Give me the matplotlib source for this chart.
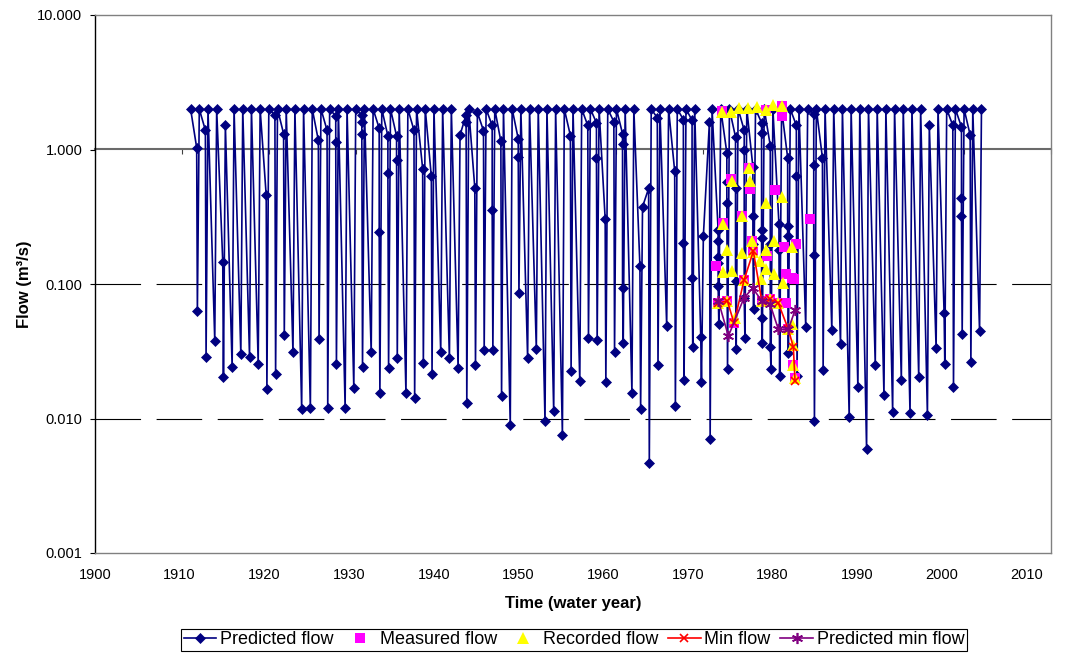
import numpy as np
import matplotlib.pyplot as plt
from matplotlib.ticker import NullLocator

plt.rcParams['font.family'] = ['Liberation Sans', 'DejaVu Sans']

# Predicted flow: one cluster per water year (points on the way down, low flow, annual peak)
years = list(range(1911, 2003))
peak = [2.0, 2.0, 2.0, 2.0, 1.53, 2.0, 2.0, 2.0, 2.0, 2.0,      # 1911-1920
        2.0, 2.0, 2.0, 2.0, 2.0, 2.0, 2.0, 2.0, 2.0, 2.0,       # 1921-1930
        2.0, 2.0, 2.0, 2.0, 2.0, 2.0, 2.0, 2.0, 2.0, 2.0,       # 1931-1940
        2.0, 1.28, 2.0, 1.89, 2.0, 2.0, 2.0, 2.0, 2.0, 2.0,     # 1941-1950
        2.0, 2.0, 2.0, 2.0, 2.0, 2.0, 2.0, 2.0, 2.0, 2.0,       # 1951-1960
        2.0, 2.0, 0.375, 2.0, 2.0, 2.0, 2.0, 2.0, 2.0, 0.227,   # 1961-1970
        2.0, 2.0, 2.0, 2.0, 2.0, 2.0, 2.0, 2.0, 2.0, 2.0,       # 1971-1980
        2.0, 2.0, 2.0, 2.0, 2.0, 2.0, 2.0, 2.0, 2.0, 2.0,       # 1981-1990
        2.0, 2.0, 2.0, 2.0, 2.0, 1.51, 2.0, 2.0, 2.0, 2.0,      # 1991-2000
        2.0, 2.0]                                               # 2001-2002

# low flow reached just before each peak, 1912-2002
trough = [0.063, 0.0288, 0.038, 0.0203, 0.024, 0.030, 0.0288, 0.0256, 0.0167,      # 1912-1920
          0.0215, 0.042, 0.031, 0.0118, 0.0120, 0.039, 0.0119, 0.0256, 0.0120, 0.0170,
          0.024, 0.031, 0.0155, 0.0238, 0.028, 0.0154, 0.0141, 0.026, 0.0216, 0.031,
          0.028, 0.0238, 0.0131, 0.0248, 0.0325, 0.0325, 0.0146, 0.0090, 0.0852, 0.028,
          0.033, 0.0095, 0.0113, 0.0076, 0.0225, 0.0190, 0.0397, 0.0381, 0.0187, 0.0310,
          0.0365, 0.0156, 0.0118, 0.0047, 0.0248, 0.049, 0.0123, 0.0193, 0.0340, 0.0187,
          0.0071, 0.050, 0.0233, 0.033, 0.0397, 0.065, 0.0365, 0.0235, 0.0208, 0.0306,
          0.0208, 0.0478, 0.0095, 0.0228, 0.0458, 0.0355, 0.0102, 0.0171, 0.0059, 0.0251,
          0.0150, 0.0112, 0.0193, 0.0109, 0.0205, 0.0106, 0.0335, 0.0256, 0.0171, 0.0426,
          0.0262, 0.0446]                                                          # 2001-2002

# other predicted values inside a year
between = {
    1912: [1.03], 1913: [1.39], 1915: [0.146], 1920: [0.455], 1921: [1.80],
    1922: [1.31], 1926: [1.17], 1927: [1.39], 1928: [1.77, 1.13],
    1931: [1.79, 1.61, 1.31], 1933: [1.44, 0.244], 1934: [1.26, 0.67],
    1935: [1.26, 0.84], 1937: [1.39], 1938: [0.72], 1939: [0.63],
    1943: [1.81, 1.61], 1944: [0.519], 1945: [1.38], 1946: [1.51, 0.358],
    1947: [1.15], 1949: [1.20, 0.877], 1955: [1.27], 1957: [1.51],
    1958: [1.58, 0.867], 1959: [0.306], 1960: [1.61], 1961: [1.31, 1.09, 0.0928],
    1963: [0.136], 1964: [0.513], 1965: [1.72], 1967: [0.69], 1968: [1.67, 0.202],
    1969: [1.65, 0.111], 1970: [0.0407], 1971: [1.61],
    1972: [0.25, 0.21, 0.16, 0.143, 0.096], 1973: [0.945, 0.57, 0.40],
    1974: [1.24, 0.52, 0.105], 1975: [1.39, 1.0, 0.079], 1976: [0.74, 0.32, 0.20],
    1977: [1.58, 1.33, 0.25, 0.22, 0.056], 1978: [1.07, 0.20, 0.034],
    1979: [0.277, 0.18], 1980: [0.867, 0.27, 0.227], 1981: [1.51, 0.63],
    1983: [1.85, 0.77, 0.164], 1984: [0.867], 1998: [0.061], 1999: [1.51],
    2000: [1.47, 0.433, 0.323], 2001: [1.28],
}

# Measured flow
meas_x = [1971.46, 1971.72, 1972.12, 1972.23, 1972.76, 1973.15, 1973.53, 1974.42,
          1974.68, 1975.29, 1975.37, 1975.57, 1975.75, 1976.72, 1977.21, 1977.29,
          1977.67, 1978.25, 1978.63, 1979.09, 1979.09, 1979.28, 1979.51, 1979.51,
          1979.78, 1980.17, 1980.43, 1980.35, 1980.55, 1980.66, 1982.27]
meas_y = [0.137, 0.072, 1.93, 0.285, 0.075, 0.60, 0.051, 0.32,
          0.107, 0.73, 0.51, 0.208, 0.173, 0.075, 1.96, 0.161,
          0.077, 0.50, 0.072, 2.1, 1.77, 0.19, 0.118, 0.072,
          0.046, 0.111, 0.109, 0.025, 0.020, 0.197, 0.305]

# Recorded flow
rec_x = [1971.72, 1972.12, 1972.23, 1972.30, 1972.69, 1972.76, 1973.15, 1973.27,
         1973.27, 1973.60, 1974.14, 1974.42, 1974.49, 1974.68, 1975.18, 1975.29,
         1975.37, 1975.57, 1975.75, 1976.14, 1976.52, 1976.64, 1976.72, 1977.21,
         1977.21, 1977.21, 1977.21, 1977.67, 1978.05, 1978.17, 1978.17, 1978.63,
         1979.09, 1979.09, 1979.13, 1979.78, 1980.17, 1980.25, 1980.35, 1980.35,
         1980.55]
rec_y = [0.072, 1.89, 0.28, 0.123, 0.18, 0.075, 1.89, 0.58,
         0.125, 0.056, 2.04, 0.32, 0.17, 0.107, 2.04, 0.73,
         0.58, 0.21, 0.173, 2.07, 0.148, 0.109, 0.075, 1.96,
         0.40, 0.18, 0.13, 0.077, 2.16, 0.21, 0.119, 0.072,
         2.1, 0.44, 0.102, 0.046, 0.19, 0.050, 0.035, 0.025,
         0.020]

# Min flow
min_x = [1971.72, 1972.76, 1973.53, 1974.68, 1975.75, 1976.72, 1977.67, 1978.63,
         1979.78, 1980.35, 1980.55]
min_y = [0.072, 0.075, 0.051, 0.107, 0.175, 0.075, 0.077, 0.072,
         0.046, 0.034, 0.019]

# Predicted min flow
pmin_x = [1971.72, 1972.88, 1974.68, 1975.68, 1976.72, 1977.67, 1978.63, 1979.78, 1980.55]
pmin_y = [0.075, 0.041, 0.079, 0.093, 0.075, 0.071, 0.046, 0.046, 0.064]

x_labels = [str(y) for y in range(1900, 2011, 10)]

# build the predicted series: peak of a year, slope down, low flow, next peak
pred_x, pred_y = [years[0]], [peak[0]]
for i, yr in enumerate(years[1:]):
    for v in sorted(between.get(yr, []), reverse=True):
        pred_x.append(yr - 0.3)
        pred_y.append(v)
    pred_x.append(yr - 0.22)
    pred_y.append(trough[i])
    pred_x.append(yr)
    pred_y.append(peak[i + 1])

fig = plt.figure(figsize=(10.71, 6.54), dpi=100)
ax = fig.add_axes([95 / 1071, 1 - 553 / 654, 956 / 1071, 538 / 654])

navy = '#000080'
ax.plot(pred_x, pred_y, color=navy, lw=1.2, marker='D', ms=4.8, mfc=navy, mec=navy,
        mew=0.5, label='Predicted flow', zorder=3)
ax.plot(meas_x, meas_y, ls='none', marker='s', ms=6.5, mfc='#FF00FF', mec='#FF00FF',
        mew=0, label='Measured flow', zorder=4)
ax.plot(rec_x, rec_y, ls='none', marker='^', ms=8, mfc='#FFFF00', mec='#FFFF00',
        mew=0, label='Recorded flow', zorder=5)
ax.plot(min_x, min_y, color='#FF0000', lw=1.2, marker='x', ms=6, mew=1.2,
        label='Min flow', zorder=6)
ax.plot(pmin_x, pmin_y, color='#800080', lw=1.2, marker=(6, 2, 0), ms=8, mew=1.2,
        label='Predicted min flow', zorder=7)

ax.set_yscale('log')
ax.set_ylim(0.001, 10)
ax.set_xlim(1900, 2010)
ax.set_yticks([0.001, 0.01, 0.1, 1, 10])
ax.set_yticklabels(['0.001', '0.010', '0.100', '1.000', '10.000'])
ax.yaxis.set_minor_locator(NullLocator())
ax.tick_params(axis='y', length=3.6, width=0.8, pad=5.5, labelsize=10.5)

# year labels sit a little left of their ticks, like the source export
ax.set_xticks([1900 + k * 9.744 for k in range(len(x_labels))])
ax.set_xticklabels(x_labels)
ax.tick_params(axis='x', length=0, pad=10.8, labelsize=10.5)

ax.yaxis.grid(True, color='black', lw=0.8, linestyle=(0, (41, 14)))
ax.set_axisbelow(True)
# only the inner decades get a dashed line; 1.000 carries the axis, 0.001/10 the border
grid = ax.yaxis.get_gridlines()
for k in (0, 3, 4):
    grid[k].set_visible(False)

for side in ['top', 'right', 'bottom']:
    ax.spines[side].set_color('#808080')
    ax.spines[side].set_linewidth(1.0)
ax.spines['left'].set_color('black')
ax.spines['left'].set_linewidth(1.0)

# category axis crossing at 1.000
sec = ax.secondary_xaxis(0.75)
sec.set_xticks(range(1900, 2011, 10))
sec.tick_params(direction='in', length=3.6, width=0.8, colors='#404040',
                labeltop=False, labelbottom=False)
for s in sec.spines.values():
    s.set_color('#6a6a6a')
    s.set_linewidth(1.5)

ax.set_ylabel('Flow (m³/s)', fontsize=12, fontweight='bold', labelpad=4)
ax.set_xlabel('Time (water year)', fontsize=12, fontweight='bold', labelpad=10)

handles, labels = ax.get_legend_handles_labels()
leg = fig.legend(handles, labels, loc='center', bbox_to_anchor=(574 / 1071, 1 - 640 / 654),
                 ncol=5, fontsize=13, frameon=True, fancybox=False, edgecolor='black',
                 framealpha=1, handlelength=1.8, handletextpad=0.2, columnspacing=0.55,
                 borderpad=0.15, borderaxespad=0)
leg.get_frame().set_linewidth(0.8)

fig.savefig('out.png', dpi=100)
